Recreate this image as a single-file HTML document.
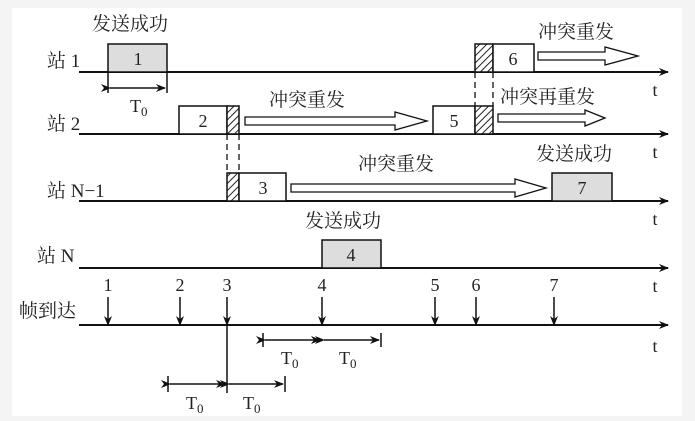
<!DOCTYPE html>
<html><head><meta charset="utf-8"><style>
html,body{margin:0;padding:0;background:#f4f4f4;}
svg{display:block}
text{font-family:"Liberation Serif","Noto Serif CJK SC",serif;fill:#222;}
.cj{font-family:"Liberation Serif","Noto Sans CJK SC",sans-serif;font-size:19px;}
</style></head><body>
<svg width="695" height="421" viewBox="0 0 695 421" xmlns="http://www.w3.org/2000/svg">
<defs>
<pattern id="h" width="5" height="5" patternUnits="userSpaceOnUse" patternTransform="rotate(45)">
<rect width="5" height="5" fill="#fff"/><line x1="0" y1="0" x2="0" y2="5" stroke="#222" stroke-width="2"/>
</pattern>
<marker id="a" markerWidth="10" markerHeight="8" refX="9" refY="4" orient="auto" markerUnits="userSpaceOnUse"><path d="M0,0 L10,4 L0,8 L3,4z" fill="#111"/></marker>
</defs>
<rect x="12" y="8" width="670" height="408" fill="#fff"/>
<g stroke="#111" stroke-width="2" fill="none">
<line x1="79" y1="72" x2="668" y2="72" marker-end="url(#a)"/>
<line x1="79" y1="134" x2="668" y2="134" marker-end="url(#a)"/>
<line x1="79" y1="201" x2="668" y2="201" marker-end="url(#a)"/>
<line x1="79" y1="268" x2="668" y2="268" marker-end="url(#a)"/>
<line x1="79" y1="325" x2="668" y2="325" marker-end="url(#a)"/>
</g>
<g stroke="#111" stroke-width="1.5">
<rect x="108" y="44" width="59" height="28" fill="#ddd"/>
<rect x="179" y="106" width="48" height="28" fill="#fff"/>
<rect x="227" y="106" width="12" height="28" fill="url(#h)"/>
<rect x="227" y="173" width="12" height="28" fill="url(#h)"/>
<rect x="239" y="173" width="47" height="28" fill="#fff"/>
<rect x="475" y="44" width="18" height="28" fill="url(#h)"/>
<rect x="493" y="44" width="41" height="28" fill="#fff"/>
<rect x="433" y="106" width="42" height="28" fill="#fff"/>
<rect x="475" y="106" width="18" height="28" fill="url(#h)"/>
<rect x="552" y="173" width="60" height="28" fill="#ddd"/>
<rect x="322" y="240" width="59" height="28" fill="#ddd"/>
</g>
<g stroke="#111" stroke-width="1.3" stroke-dasharray="6,4">
<line x1="227" y1="134" x2="227" y2="173"/><line x1="239" y1="134" x2="239" y2="173"/>
<line x1="475" y1="72" x2="475" y2="106"/><line x1="493" y1="72" x2="493" y2="106"/>
</g>
<g stroke="#111" stroke-width="1.3" fill="#fff">
<polygon points="245,117 395,117 395,112 427,121 395,130 395,125 245,125"/>
<polygon points="538,52 605,52 605,47 638,56 605,65 605,60 538,60"/>
<polygon points="498,114 585,114 585,110 605,118 585,126 585,122 498,122"/>
<polygon points="291,184 515,184 515,179 546,188 515,197 515,192 291,192"/>
</g>
<g stroke="#111" stroke-width="1.5">
<line x1="108" y1="72" x2="108" y2="93"/><line x1="167" y1="72" x2="167" y2="93"/>
<line x1="110" y1="88" x2="165" y2="88" marker-start="url(#a)" marker-end="url(#a)"/>
<line x1="263" y1="333" x2="263" y2="347"/><line x1="381" y1="333" x2="381" y2="347"/>
<line x1="265" y1="340" x2="320" y2="340" marker-start="url(#a)" marker-end="url(#a)"/>
<line x1="324" y1="340" x2="379" y2="340" marker-start="url(#a)" marker-end="url(#a)"/>
<line x1="227" y1="325" x2="227" y2="393"/>
<line x1="168" y1="376" x2="168" y2="392"/><line x1="285" y1="376" x2="285" y2="392"/>
<line x1="170" y1="384" x2="225" y2="384" marker-start="url(#a)" marker-end="url(#a)"/>
<line x1="229" y1="384" x2="283" y2="384" marker-start="url(#a)" marker-end="url(#a)"/>
<g marker-end="url(#a)">
<line x1="108" y1="297" x2="108" y2="325"/><line x1="180" y1="297" x2="180" y2="325"/>
<line x1="227" y1="297" x2="227" y2="325"/><line x1="322" y1="297" x2="322" y2="325"/>
<line x1="435" y1="297" x2="435" y2="325"/><line x1="476" y1="297" x2="476" y2="325"/>
<line x1="554" y1="297" x2="554" y2="325"/>
</g>
</g>
<g font-size="18" text-anchor="middle">
<text x="138" y="65">1</text><text x="203" y="127">2</text><text x="263" y="194">3</text>
<text x="351" y="261">4</text><text x="454" y="127">5</text><text x="513" y="65">6</text><text x="582" y="194">7</text>
<text x="108" y="291">1</text><text x="180" y="291">2</text><text x="227" y="291">3</text><text x="322" y="291">4</text>
<text x="435" y="291">5</text><text x="476" y="291">6</text><text x="554" y="291">7</text>
<text x="655" y="96">t</text><text x="655" y="158">t</text><text x="655" y="225">t</text><text x="655" y="292">t</text><text x="655" y="352">t</text>
</g>
<g font-size="18">
<text x="130" y="112">T<tspan font-size="13" dy="4">0</tspan></text>
<text x="281" y="364">T<tspan font-size="13" dy="4">0</tspan></text>
<text x="339" y="364">T<tspan font-size="13" dy="4">0</tspan></text>
<text x="186" y="409">T<tspan font-size="13" dy="4">0</tspan></text>
<text x="243" y="409">T<tspan font-size="13" dy="4">0</tspan></text>
</g>
<g class="cj">
<text x="92" y="30">发送成功</text>
<text x="269" y="106">冲突重发</text>
<text x="538" y="38">冲突重发</text>
<text x="500" y="103">冲突再重发</text>
<text x="358" y="170">冲突重发</text>
<text x="536" y="160">发送成功</text>
<text x="305" y="227">发送成功</text>
<text x="47" y="67">站 1</text>
<text x="47" y="130">站 2</text>
<text x="47" y="197">站 N−1</text>
<text x="37" y="262">站 N</text>
<text x="19" y="317">帧到达</text>
</g>
</svg>
</body></html>
